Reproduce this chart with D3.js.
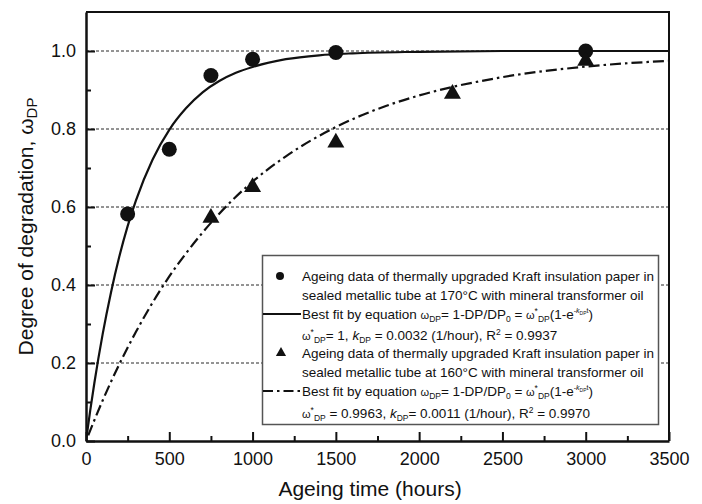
<!DOCTYPE html>
<html>
<head>
<meta charset="utf-8">
<script src="https://cdn.jsdelivr.net/npm/d3@7"></script>
<style>
  body { margin: 0; background: #fff; }
  svg { display: block; font-family: "Liberation Sans", Arial, Helvetica, sans-serif; }
</style>
</head>
<body>
<div id="chart"></div>
<script>
// Degree of degradation vs ageing time

// measured points
const hours170 = [250, 500, 750, 1000, 1500, 3000];
const omega170 = [0.582, 0.748, 0.937, 0.979, 0.996, 1.0];
const hours160 = [750, 1000, 1500, 2200, 3000];
const omega160 = [0.572, 0.651, 0.765, 0.89, 0.975];

// fitted curves
const fitHours170 = [0, 25, 50, 100, 150, 200, 250, 300, 400, 500, 600, 700, 800, 900, 1000, 1200, 1400, 1600, 2000, 2500, 3000, 3500];
const fitOmega170 = [0, 0.077, 0.148, 0.274, 0.381, 0.473, 0.551, 0.617, 0.722, 0.798, 0.853, 0.894, 0.923, 0.944, 0.959, 0.979, 0.989, 0.994, 0.998, 1.0, 1.0, 1.0];
const fitHours160 = [0, 100, 200, 300, 400, 500, 600, 800, 1000, 1200, 1500, 1800, 2000, 2500, 3000, 3500];
const fitOmega160 = [0, 0.104, 0.197, 0.280, 0.355, 0.422, 0.481, 0.583, 0.665, 0.730, 0.805, 0.859, 0.886, 0.933, 0.960, 0.975];

// ticks
const xTicks = [0, 500, 1000, 1500, 2000, 2500, 3000, 3500];
const xMinor = [250, 750, 1250, 1750, 2250, 2750, 3250];
const yTicks = [0, 0.2, 0.4, 0.6, 0.8, 1.0];
const yMinor = [0.1, 0.3, 0.5, 0.7, 0.9];
const gridValues = [0.2, 0.4, 0.6, 0.8, 1.0];

const xTitle = "Ageing time (hours)";
const yTitle = "Degree of degradation, ";

const height = 504,
    width = 702,
    margin = ({ top: 12, right: 33, bottom: 63, left: 86 });

const ink = "#111";

const svg = d3.select("#chart")
    .append("svg")
    .attr("width", width)
    .attr("height", height)
    .attr("viewBox", [0, 0, width, height]);

const x = d3.scaleLinear()
    .domain([0, 3500])
    .range([margin.left, width - margin.right]);

const y = d3.scaleLinear()
    .domain([0, 1.1])
    .range([height - margin.bottom, margin.top]);

svg.append("defs").append("clipPath")
    .attr("id", "plot-clip")
  .append("rect")
    .attr("x", margin.left)
    .attr("y", margin.top)
    .attr("width", width - margin.left - margin.right)
    .attr("height", height - margin.top - margin.bottom);

// dashed gridlines
svg.append("g")
  .selectAll("line")
  .data(gridValues)
  .join("line")
    .attr("x1", margin.left)
    .attr("x2", width - margin.right)
    .attr("y1", d => y(d))
    .attr("y2", d => y(d))
    .attr("stroke", "#111")
    .attr("stroke-width", 0.9)
    .attr("stroke-dasharray", "3,2");

// fitted curves
const line = d3.line()
    .x(d => x(d[0]))
    .y(d => y(d[1]))
    .curve(d3.curveMonotoneX);

const curves = svg.append("g").attr("clip-path", "url(#plot-clip)");

curves.append("path")
    .datum(d3.zip(fitHours170, fitOmega170))
    .attr("d", line)
    .attr("fill", "none")
    .attr("stroke", ink)
    .attr("stroke-width", 2.2);

curves.append("path")
    .datum(d3.zip(fitHours160, fitOmega160))
    .attr("d", line)
    .attr("fill", "none")
    .attr("stroke", ink)
    .attr("stroke-width", 2.2)
    .attr("stroke-dasharray", "11,4,2.5,4")
    .attr("stroke-dashoffset", -6);

// measured points
svg.append("g")
  .selectAll("circle")
  .data(d3.zip(hours170, omega170))
  .join("circle")
    .attr("cx", d => x(d[0]))
    .attr("cy", d => y(d[1]))
    .attr("r", 7.5)
    .attr("fill", ink);

const tri = d3.symbol().type(d3.symbolTriangle).size(125);

svg.append("g")
  .selectAll("path")
  .data(d3.zip(hours160, omega160))
  .join("path")
    .attr("d", tri)
    .attr("transform", d => `translate(${x(d[0])},${y(d[1])})`)
    .attr("fill", ink);

// axes: ticks point inward
svg.append("g")
    .attr("transform", `translate(0,${height - margin.bottom})`)
    .call(d3.axisBottom(x).tickValues(xTicks).tickSize(-9).tickSizeOuter(0).tickPadding(11).tickFormat(d3.format("d")));

svg.append("g")
    .attr("transform", `translate(0,${height - margin.bottom})`)
    .call(d3.axisBottom(x).tickValues(xMinor).tickSize(-5).tickSizeOuter(0).tickFormat(""))
    .call(g => g.select(".domain").remove());

svg.append("g")
    .attr("transform", `translate(${margin.left},0)`)
    .call(d3.axisLeft(y).tickValues(yTicks).tickSize(-9).tickSizeOuter(0).tickPadding(10).tickFormat(d3.format(".1f")));

svg.append("g")
    .attr("transform", `translate(${margin.left},0)`)
    .call(d3.axisLeft(y).tickValues(yMinor).tickSize(-5).tickSizeOuter(0).tickFormat(""))
    .call(g => g.select(".domain").remove());

svg.selectAll(".tick line").attr("stroke", ink).attr("stroke-width", 2);
svg.selectAll(".domain").attr("stroke", ink).attr("stroke-width", 2.5);
svg.selectAll(".tick text")
    .attr("fill", ink)
    .attr("font-size", 18)
    .attr("font-family", "Liberation Sans, Arial, sans-serif");

// top and right frame
svg.append("path")
    .attr("d", `M${margin.left},${margin.top}H${width - margin.right}V${height - margin.bottom}`)
    .attr("fill", "none")
    .attr("stroke", ink)
    .attr("stroke-width", 2);

// axis titles
svg.append("text")
    .attr("x", 370)
    .attr("y", 496)
    .attr("text-anchor", "middle")
    .attr("font-size", 21)
    .attr("fill", ink)
    .text(xTitle);

const yLab = svg.append("text")
    .attr("transform", `translate(33,${(margin.top + height - margin.bottom) / 2}) rotate(-90)`)
    .attr("text-anchor", "middle")
    .attr("font-size", 21)
    .attr("fill", ink);
yLab.append("tspan").text(yTitle);
yLab.append("tspan").text("\u03c9");
yLab.append("tspan").attr("font-size", 15).attr("dy", 4).text("DP");

// legend
const fitLine = [
  ["Best fit by equation "], ["\u03c9", "w"], ["DP", "sub"], ["= 1-DP/DP"], ["0", "sub"], [" = "],
  ["\u03c9", "w"], ["*", "sup"], ["DP", "sub"], ["(1-e"], ["-", "exp"], ["k", "expi"], ["DP", "expsub"], ["t", "exp"], [")"]
];
const legendRows = [
  [["Ageing data of thermally upgraded Kraft insulation paper in"]],
  [["sealed metallic tube at 170\u00b0C with mineral transformer oil"]],
  fitLine,
  [["\u03c9", "w"], ["*", "sup"], ["DP", "sub"], ["= 1, "], ["k", "it"], ["DP", "sub"], [" = 0.0032 (1/hour), R"], ["2", "sup"], [" = 0.9937"]],
  [["Ageing data of thermally upgraded Kraft insulation paper in"]],
  [["sealed metallic tube at 160\u00b0C with mineral transformer oil"]],
  fitLine,
  [["\u03c9", "w"], ["*", "sup"], ["DP", "sub"], [" = 0.9963, "], ["k", "it"], ["DP", "sub"], ["= 0.0011 (1/hour), R"], ["2", "sup"], [" = 0.9970"]]
];
const rowBaselines = [281, 300, 319, 340, 358, 377, 396, 418];

const legend = svg.append("g");

legend.append("rect")
    .attr("x", 262.5)
    .attr("y", 255.5)
    .attr("width", 396)
    .attr("height", 169)
    .attr("fill", "#fff")
    .attr("stroke", "#555")
    .attr("stroke-width", 1.5);

const segStyle = {
  w: { size: 11, shift: 0 },
  sub: { size: 8.5, shift: 3 },
  sup: { size: 8.5, shift: -5 },
  it: { size: 13.5, shift: 0, italic: true },
  exp: { size: 7, shift: -6 },
  expi: { size: 7, shift: -6, italic: true },
  expsub: { size: 5, shift: -4 }
};

legendRows.forEach((row, i) => {
  const t = legend.append("text")
      .attr("x", 302)
      .attr("y", rowBaselines[i])
      .attr("font-size", 13.5)
      .attr("fill", ink);
  let cur = 0;
  row.forEach(([str, kind]) => {
    const s = segStyle[kind] || { size: 13.5, shift: 0 };
    const ts = t.append("tspan")
        .attr("dy", s.shift - cur)
        .attr("font-size", s.size)
        .text(str);
    if (s.italic) ts.attr("font-style", "italic");
    cur = s.shift;
  });
});

legend.append("circle")
    .attr("cx", 280)
    .attr("cy", 276)
    .attr("r", 4)
    .attr("fill", ink);

legend.append("path")
    .attr("d", d3.symbol().type(d3.symbolTriangle).size(45))
    .attr("transform", "translate(281,353)")
    .attr("fill", ink);

legend.append("line")
    .attr("x1", 263).attr("x2", 301)
    .attr("y1", 314).attr("y2", 314)
    .attr("stroke", ink)
    .attr("stroke-width", 2);

legend.append("line")
    .attr("x1", 263).attr("x2", 301)
    .attr("y1", 391).attr("y2", 391)
    .attr("stroke", ink)
    .attr("stroke-width", 2)
    .attr("stroke-dasharray", "10,4,2.5,4");
</script>
</body>
</html>
